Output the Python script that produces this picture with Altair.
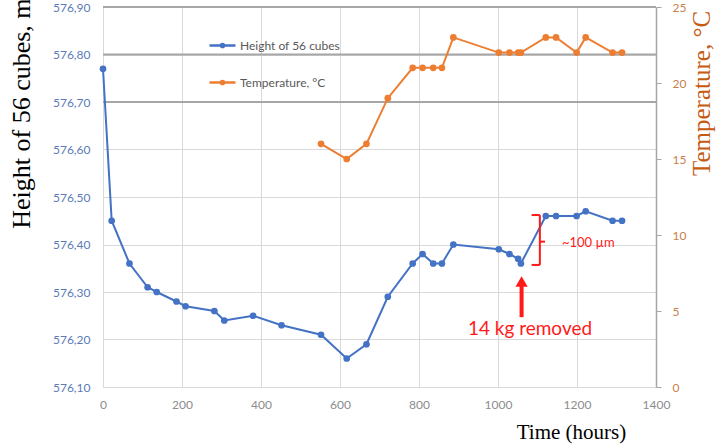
import altair as alt
import pandas as pd

# ---- data ----
hours = [0, 22, 67, 113, 136, 186, 209, 282, 307, 380, 452, 552, 617, 667, 721,
         784, 809, 836, 858, 887, 1002, 1029, 1051, 1058, 1121, 1147, 1199, 1222, 1290, 1314]
height_mm = [576.77, 576.45, 576.36, 576.31, 576.30, 576.28, 576.27, 576.26, 576.24, 576.25,
             576.23, 576.21, 576.16, 576.19, 576.29, 576.36, 576.38, 576.36, 576.36, 576.40,
             576.39, 576.38, 576.37, 576.36, 576.46, 576.46, 576.46, 576.47, 576.45, 576.45]
temp_hours = [552, 617, 667, 721, 784, 809, 836, 858, 887, 1002, 1029, 1051, 1058,
              1121, 1147, 1199, 1222, 1290, 1314]
temperature = [16, 15, 16, 19, 21, 21, 21, 21, 23, 22, 22, 22, 22, 23, 23, 22, 23, 22, 22]

x_ticks = [0, 200, 400, 600, 800, 1000, 1200, 1400]
left_ticks = [576.10, 576.20, 576.30, 576.40, 576.50, 576.60, 576.70, 576.80, 576.90]
right_ticks = [0, 5, 10, 15, 20, 25]
dark_levels = [576.90, 576.80, 576.70]

# annotation: bracket segments (hours, mm)
br_x = [1106, 1085, 1085, 1106]
br_x2 = [1106, 1106, 1106, 1119]
br_y = [576.357, 576.462, 576.357, 576.406]
br_y2 = [576.462, 576.462, 576.357, 576.406]
bracket_label = ["~100 µm"]
bracket_label_x = [1162]
bracket_label_y = [576.403]
arrow_x = [1059.7]
arrow_y_start = [576.247]
arrow_y_end = [576.318]
arrow_tip_y = [576.322]
removed_label = ["14 kg removed"]
removed_x = [1081]
removed_y = [576.222]

H = "Height of 56 cubes"
T = "Temperature, °C"
BLUE = "#4472C4"
ORANGE = "#ED7D31"
RED = "#FF1A1A"

df_h = pd.DataFrame({"hours": hours, "value": height_mm, "series": H})
df_t = pd.DataFrame({"hours": temp_hours, "value": temperature, "series": T})
df_levels = pd.DataFrame({"level": dark_levels})
df_br = pd.DataFrame({"x": br_x, "x2": br_x2, "y": br_y, "y2": br_y2})
df_brl = pd.DataFrame({"x": bracket_label_x, "y": bracket_label_y, "t": bracket_label})
df_arrow = pd.DataFrame({"x": arrow_x, "y": arrow_y_start, "y2": arrow_y_end, "tip": arrow_tip_y})
df_rem = pd.DataFrame({"x": removed_x, "y": removed_y, "t": removed_label})

color_scale = alt.Scale(domain=[H, T], range=[BLUE, ORANGE])
SYMBOL = "M-1,0H1M-0.12,0A0.12,0.12,0,1,1,0.12,0A0.12,0.12,0,1,1,-0.12,0Z"
legend = alt.Legend(title=None, orient="none", legendX=105, legendY=24,
                    symbolType=SYMBOL, symbolSize=676, symbolStrokeWidth=2.5,
                    labelFont="Lato", labelFontSize=12, labelColor="#595959",
                    rowPadding=15, labelOffset=3)

xscale = alt.Scale(domain=[0, 1400], nice=False, zero=False)
yl_scale = alt.Scale(domain=[576.10, 576.90], nice=False, zero=False)
yr_scale = alt.Scale(domain=[0, 25], nice=False)

x_axis = alt.Axis(values=x_ticks, format="d", labelFlush=False, title="Time (hours)",
                  grid=True, gridColor="#D9D9D9",
                  domain=False, ticks=False, labelPadding=12, labelFont="Lato",
                  labelFontSize=12, labelColor="#8C8C8C",
                  titleFont="Liberation Serif", titleFontSize=21, titleFontWeight="normal",
                  titleColor="black", titleX=468, titleY=45, titleAlign="center",
                  titleBaseline="middle")

left_axis = alt.Axis(orient="left", values=left_ticks, labelFlush=False,
                     labelExpr="replace(format(datum.value, '.2f'), '.', ',')",
                     grid=True, gridColor="#D9D9D9", domain=False, ticks=False,
                     labelPadding=13, labelFont="Lato", labelFontSize=12,
                     labelColor="#5B7BB8", title="Height of 56 cubes, mm",
                     titleFont="Liberation Serif", titleFontSize=26, titleFontWeight="normal",
                     titleColor="black", titleAngle=270, titleX=-82, titleY=96,
                     titleAlign="center", titleBaseline="middle")

right_axis = alt.Axis(orient="right", values=right_ticks, labelFlush=False, grid=False,
                      domain=True, domainColor="#A6A6A6", domainWidth=1.5, ticks=True,
                      tickSize=5, tickColor="#A6A6A6", labelPadding=11, labelFont="Lato",
                      labelFontSize=12, labelColor="#C8804A", title=T,
                      titleFont="Liberation Serif", titleFontSize=25, titleFontWeight="normal",
                      titleColor="#C55A11", titleAngle=270, titleX=45, titleY=86,
                      titleAlign="center", titleBaseline="middle")

levels = alt.Chart(df_levels).mark_rule(color="#A6A6A6", strokeWidth=2).encode(
    y=alt.Y("level:Q", scale=yl_scale, axis=left_axis)
)

height_line = alt.Chart(df_h).mark_line(strokeWidth=2, point=alt.OverlayMarkDef(size=45, filled=True, opacity=1)).encode(
    x=alt.X("hours:Q", scale=xscale, axis=x_axis),
    y=alt.Y("value:Q", scale=yl_scale),
    color=alt.Color("series:N", scale=color_scale, legend=legend),
)

bracket = alt.Chart(df_br).mark_rule(color=RED, strokeWidth=2).encode(
    x=alt.X("x:Q", scale=xscale), x2="x2:Q",
    y=alt.Y("y:Q", scale=yl_scale), y2="y2:Q",
)

bracket_text = alt.Chart(df_brl).mark_text(color=RED, font="Lato", fontSize=13, align="left",
                                           baseline="middle").encode(
    x=alt.X("x:Q", scale=xscale), y=alt.Y("y:Q", scale=yl_scale), text="t:N"
)

arrow_shaft = alt.Chart(df_arrow).mark_rule(color=RED, strokeWidth=4).encode(
    x=alt.X("x:Q", scale=xscale), y=alt.Y("y:Q", scale=yl_scale), y2="y2:Q"
)
arrow_head = alt.Chart(df_arrow).mark_point(shape="triangle-up", filled=True, color=RED,
                                            size=150, opacity=1).encode(
    x=alt.X("x:Q", scale=xscale), y=alt.Y("tip:Q", scale=yl_scale)
)

removed_text = alt.Chart(df_rem).mark_text(color=RED, font="Lato", fontSize=19, align="center",
                                           baseline="middle").encode(
    x=alt.X("x:Q", scale=xscale), y=alt.Y("y:Q", scale=yl_scale), text="t:N"
)

left = alt.layer(levels, height_line, bracket, bracket_text, arrow_shaft, arrow_head, removed_text)

temp_line = alt.Chart(df_t).mark_line(strokeWidth=2, point=alt.OverlayMarkDef(size=45, filled=True, opacity=1)).encode(
    x=alt.X("hours:Q", scale=xscale),
    y=alt.Y("value:Q", scale=yr_scale, axis=right_axis),
    color=alt.Color("series:N", scale=color_scale, legend=legend),
)

chart = alt.layer(left, temp_line).resolve_scale(y="independent").properties(
    width=553, height=380,
    autosize=alt.AutoSizeParams(type="none"),
    padding={"left": 103, "top": 7, "right": 62, "bottom": 60},
    background="white",
).configure_view(stroke=None)

chart.save("out.html", embed_options={"renderer": "svg", "actions": False})
